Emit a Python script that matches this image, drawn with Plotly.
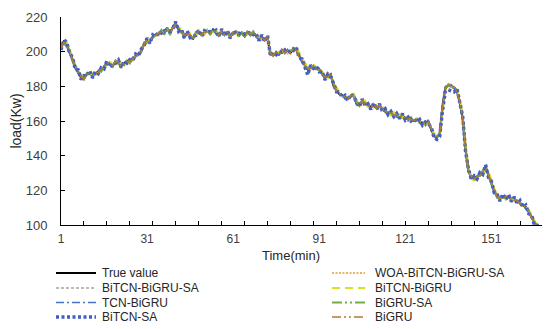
import plotly.graph_objects as go

# ---------------- data ----------------
x_tick_labels = [1, 31, 61, 91, 121, 151]
x_tick_marks = list(range(1, 170, 8))
x_max = 169

true_value = [
    202.5, 205.8, 204.1, 200.2, 195.6, 190.8, 188.1, 185.2, 184.6, 186.9,
    187.8, 186.0, 187.2, 188.6, 189.3, 191.0, 193.6, 192.5, 191.8, 194.4,
    193.7, 191.9, 193.2, 194.6, 194.0, 195.9, 197.4, 198.8, 200.3, 204.7,
    206.5, 205.9, 208.4, 209.8, 210.3, 211.9, 210.7, 213.6, 210.4, 214.2,
    216.0, 212.9, 211.6, 208.9, 210.8, 209.3, 207.6, 210.5, 211.3, 209.9,
    210.8, 212.1, 210.4, 212.6, 211.0, 209.7, 211.9, 210.2, 210.9, 208.8,
    210.6, 211.5, 209.4, 210.7, 208.9, 211.2, 210.0, 211.0, 209.2, 207.5,
    208.3, 207.0, 208.1, 198.6, 198.0, 199.4, 198.6, 200.8, 199.7, 200.5,
    199.5, 201.8, 201.2, 197.6, 194.5, 192.4, 189.6, 190.9, 191.5, 190.3,
    189.6, 187.4, 184.9, 185.8, 186.9, 180.4, 178.2, 175.6, 174.8, 173.5,
    173.0, 174.3, 175.2, 170.1, 169.5, 171.4, 170.2, 168.7, 168.0, 169.1,
    167.9, 168.6, 167.0, 165.8, 164.9, 164.2, 163.8, 163.1, 162.7, 162.9,
    161.8, 160.9, 161.3, 160.2, 160.8, 159.6, 158.9, 158.2, 159.8, 155.3,
    151.8, 150.6, 152.4, 168.7, 179.2, 180.6, 180.1, 179.3, 177.4, 170.8,
    161.5, 143.8, 131.2, 127.6, 127.0, 127.8, 128.9, 130.4, 133.5, 128.6,
    124.0, 119.8, 116.4, 115.1, 116.6, 115.9, 116.2, 114.8, 114.9, 113.6,
    112.8, 111.4, 110.2, 107.8, 104.6, 101.2, 98.6, 97.0, 96.2,
]

woa_bitcn_bigru_sa = [
    202.9, 205.1, 203.6, 199.5, 195.9, 191.4, 187.6, 185.8, 185.1, 186.3,
    188.2, 186.6, 186.8, 188.1, 189.9, 190.6, 193.0, 192.9, 192.3, 193.8,
    194.1, 192.5, 192.8, 194.1, 194.6, 195.4, 197.9, 198.3, 200.9, 204.1,
    206.0, 206.4, 207.9, 210.3, 209.8, 211.4, 211.2, 213.0, 211.0, 213.6,
    215.4, 213.5, 211.0, 209.5, 210.2, 209.9, 208.2, 209.9, 211.8, 210.4,
    210.3, 211.6, 210.9, 212.0, 211.5, 210.2, 211.3, 210.8, 210.3, 209.4,
    210.1, 211.0, 209.9, 210.2, 209.5, 210.7, 210.5, 210.5, 209.7, 208.0,
    207.8, 207.6, 207.5, 199.3, 198.5, 198.9, 199.1, 200.2, 200.2, 200.0,
    200.0, 201.3, 200.7, 198.2, 195.0, 192.0, 190.2, 190.5, 191.0, 190.8,
    189.1, 187.9, 185.4, 185.4, 186.3, 181.0, 178.7, 176.1, 174.4, 173.9,
    172.6, 174.0, 174.7, 170.7, 170.0, 170.9, 170.6, 168.3, 168.4, 168.7,
    168.3, 168.1, 167.5, 165.4, 165.3, 163.9, 164.2, 162.7, 163.0, 162.5,
    162.2, 161.3, 160.9, 160.6, 160.4, 159.9, 158.6, 158.6, 159.3, 155.8,
    152.3, 151.0, 152.9, 168.0, 178.6, 180.1, 179.6, 178.8, 177.0, 171.4,
    162.0, 144.5, 131.9, 128.1, 127.5, 127.3, 128.4, 130.0, 132.9, 129.2,
    124.5, 120.3, 116.9, 115.6, 116.1, 116.4, 115.7, 115.2, 114.5, 114.0,
    112.4, 111.8, 110.7, 108.3, 105.1, 101.7, 99.1, 97.5, 96.7,
]

bitcn_bigru_sa = [
    201.8, 204.9, 204.8, 201.0, 196.4, 191.5, 188.9, 186.0, 184.0, 186.2,
    188.5, 186.9, 186.5, 189.2, 188.7, 190.3, 192.8, 193.3, 191.1, 193.6,
    194.5, 192.8, 192.4, 195.3, 193.4, 196.5, 196.8, 199.5, 199.6, 203.8,
    207.2, 205.2, 207.6, 210.6, 209.5, 212.6, 210.0, 212.8, 211.3, 213.5,
    215.1, 213.8, 210.8, 209.6, 210.1, 208.6, 208.4, 209.7, 212.0, 209.2,
    211.5, 211.4, 211.2, 211.8, 211.7, 209.0, 212.5, 209.6, 211.5, 209.5,
    209.9, 212.1, 208.8, 211.3, 208.3, 211.8, 209.4, 211.6, 208.6, 208.2,
    207.6, 207.7, 207.3, 199.5, 197.4, 200.1, 198.0, 201.5, 199.0, 201.1,
    198.9, 202.4, 200.5, 198.4, 193.8, 193.1, 190.3, 190.2, 192.2, 189.7,
    190.3, 186.8, 185.6, 185.1, 187.5, 181.1, 177.6, 176.3, 174.2, 174.1,
    172.4, 174.9, 174.6, 170.8, 168.9, 172.0, 169.6, 169.3, 167.4, 169.7,
    167.3, 169.2, 166.4, 166.4, 164.3, 164.8, 163.2, 163.7, 162.1, 163.5,
    161.2, 161.5, 160.7, 160.8, 160.2, 160.2, 158.3, 158.8, 159.2, 156.0,
    151.2, 151.3, 153.1, 167.9, 178.5, 181.2, 179.5, 179.9, 176.8, 171.5,
    160.8, 144.6, 130.5, 128.3, 126.4, 128.4, 128.3, 131.0, 132.8, 129.3,
    123.4, 120.5, 115.8, 115.7, 116.0, 116.5, 115.6, 115.4, 114.3, 114.2,
    112.2, 112.0, 109.6, 108.4, 104.0, 101.8, 98.0, 97.6, 95.6,
]

bitcn_bigru = [
    203.4, 204.6, 205.2, 201.6, 197.0, 192.2, 189.4, 186.6, 185.5, 185.8,
    187.1, 187.3, 186.4, 187.6, 190.1, 190.2, 192.4, 194.0, 192.7, 193.1,
    195.0, 193.2, 192.0, 193.9, 195.2, 194.8, 198.3, 197.9, 201.2, 203.5,
    205.6, 207.1, 207.4, 209.2, 211.2, 210.8, 211.9, 212.5, 211.6, 212.8,
    215.0, 214.1, 212.3, 210.0, 209.6, 210.4, 208.7, 209.0, 212.4, 210.8,
    209.8, 212.8, 211.3, 211.1, 212.3, 210.6, 210.8, 211.3, 209.8, 209.9,
    209.5, 210.6, 210.6, 209.5, 210.2, 209.9, 211.4, 209.7, 210.4, 208.6,
    206.9, 208.5, 206.7, 200.8, 197.3, 198.1, 199.8, 199.4, 201.4, 199.0,
    201.0, 200.6, 202.3, 199.4, 196.1, 193.5, 191.1, 189.7, 192.3, 191.2,
    188.7, 188.5, 186.1, 184.6, 185.7, 182.3, 179.3, 177.0, 174.0, 174.6,
    172.1, 173.3, 176.0, 172.3, 168.6, 170.4, 171.6, 167.8, 169.1, 167.9,
    169.0, 167.4, 168.2, 165.0, 165.9, 163.4, 164.9, 162.2, 163.6, 161.8,
    162.7, 160.4, 162.0, 159.6, 161.5, 158.9, 159.6, 157.5, 159.0, 157.1,
    153.0, 150.1, 151.6, 165.9, 177.5, 181.4, 180.8, 178.4, 178.2, 172.6,
    163.0, 146.8, 133.5, 126.6, 125.8, 126.4, 129.9, 129.3, 132.1, 130.6,
    125.2, 121.1, 117.5, 114.2, 117.4, 114.6, 117.3, 113.9, 115.8, 112.7,
    113.5, 110.6, 111.1, 108.9, 105.8, 102.6, 99.7, 96.4, 97.0,
]

tcn_bigru = [
    201.6, 206.4, 203.2, 199.1, 194.7, 190.1, 188.8, 184.3, 185.7, 187.5,
    186.9, 185.3, 188.0, 189.3, 188.5, 191.7, 194.2, 191.6, 191.0, 195.1,
    192.8, 191.2, 194.0, 193.8, 193.1, 196.7, 196.6, 198.0, 201.1, 205.5,
    205.7, 205.1, 209.2, 209.0, 211.1, 211.0, 210.0, 214.4, 209.6, 215.0,
    216.6, 212.0, 212.4, 208.1, 211.6, 208.5, 206.8, 211.3, 210.5, 210.7,
    211.6, 212.9, 209.6, 213.4, 210.2, 208.9, 212.7, 209.4, 211.7, 208.0,
    211.4, 210.7, 208.6, 211.5, 208.1, 212.0, 209.3, 211.8, 208.4, 206.7,
    209.1, 206.3, 208.9, 197.8, 198.8, 200.2, 197.8, 201.6, 198.9, 201.3,
    198.7, 202.6, 200.4, 196.8, 193.7, 191.6, 188.8, 191.7, 190.7, 189.5,
    190.4, 186.6, 184.1, 186.6, 186.1, 179.6, 177.4, 174.8, 175.6, 172.7,
    173.8, 175.1, 174.4, 169.3, 170.3, 170.6, 169.4, 169.5, 167.2, 169.9,
    167.1, 169.4, 166.2, 165.0, 164.1, 165.0, 163.0, 162.3, 161.9, 163.7,
    161.0, 160.1, 162.1, 159.4, 161.6, 158.8, 158.1, 157.4, 160.6, 154.5,
    151.0, 149.8, 153.2, 169.5, 180.0, 179.8, 180.9, 178.5, 176.6, 170.0,
    160.7, 143.0, 130.4, 126.8, 127.8, 127.0, 129.7, 131.2, 134.3, 127.8,
    123.2, 119.0, 115.6, 115.9, 115.8, 116.7, 115.4, 113.8, 115.7, 112.8,
    112.0, 110.6, 109.4, 107.0, 103.8, 100.4, 97.8, 96.2, 95.4,
]

bigru_sa = [
    203.1, 204.7, 202.8, 200.9, 194.8, 191.9, 187.3, 186.1, 183.9, 187.6,
    186.9, 186.7, 186.4, 189.3, 188.4, 191.8, 192.7, 193.1, 190.9, 194.9,
    192.9, 192.6, 192.4, 195.3, 193.2, 196.6, 196.7, 199.4, 199.5, 205.4,
    205.8, 206.7, 207.7, 210.5, 209.6, 212.5, 209.9, 214.3, 209.7, 214.9,
    215.2, 213.6, 210.9, 209.6, 210.1, 210.0, 206.9, 211.2, 210.6, 210.6,
    210.1, 212.8, 209.7, 213.3, 210.3, 210.4, 211.2, 210.9, 210.2, 209.5,
    209.9, 212.2, 208.7, 211.4, 208.2, 211.9, 209.3, 211.7, 208.5, 208.2,
    208.9, 206.4, 208.8, 198.1, 198.9, 198.6, 199.4, 200.3, 200.6, 199.8,
    200.4, 201.0, 202.1, 196.9, 195.3, 191.6, 190.6, 190.0, 192.4, 189.9,
    189.3, 188.2, 184.6, 186.4, 186.2, 181.5, 177.9, 176.6, 174.1, 174.5,
    172.8, 174.7, 174.5, 171.3, 168.8, 171.7, 169.8, 169.4, 167.3, 169.8,
    167.2, 169.3, 166.3, 166.5, 164.2, 164.9, 163.1, 163.8, 162.0, 163.6,
    161.1, 161.6, 160.6, 160.9, 160.1, 160.3, 158.2, 158.9, 159.1, 156.1,
    151.6, 150.4, 153.0, 167.2, 178.9, 180.3, 180.7, 179.0, 177.7, 170.3,
    161.9, 143.6, 131.8, 127.1, 126.5, 128.1, 128.2, 131.1, 132.7, 129.4,
    123.6, 120.6, 115.7, 115.8, 115.9, 116.6, 115.5, 115.5, 114.2, 114.3,
    112.1, 112.1, 109.5, 108.5, 103.9, 101.9, 97.9, 97.7, 95.5,
]

bitcn_sa = [
    201.0, 206.9, 205.5, 199.0, 196.8, 189.6, 189.5, 184.0, 186.1, 185.6,
    189.1, 184.8, 188.6, 187.3, 190.7, 190.0, 194.8, 191.2, 193.1, 193.2,
    195.2, 190.8, 194.5, 193.3, 195.4, 194.7, 198.6, 197.5, 201.6, 203.6,
    207.8, 204.8, 209.7, 208.6, 211.7, 210.7, 212.0, 212.5, 211.8, 213.1,
    217.3, 211.7, 212.9, 207.7, 212.0, 208.1, 209.0, 209.3, 212.6, 208.7,
    212.1, 211.0, 211.7, 211.4, 212.4, 208.5, 213.1, 209.0, 212.2, 207.6,
    211.9, 210.3, 210.7, 209.5, 210.3, 210.0, 211.3, 209.8, 210.5, 206.3,
    209.6, 205.8, 209.4, 197.4, 199.3, 198.2, 199.9, 199.6, 201.0, 199.3,
    200.8, 200.6, 202.5, 196.4, 195.8, 191.2, 186.5, 192.2, 190.3, 191.6,
    188.4, 188.7, 183.6, 187.1, 185.6, 181.7, 176.9, 176.9, 173.5, 174.8,
    171.7, 175.6, 173.9, 171.4, 168.2, 172.7, 168.9, 170.0, 166.7, 170.4,
    166.6, 169.9, 165.7, 167.1, 163.6, 165.5, 162.5, 164.4, 161.4, 164.2,
    160.5, 162.2, 160.0, 161.5, 159.5, 160.9, 157.6, 159.5, 158.5, 156.6,
    150.5, 149.3, 151.1, 166.2, 177.3, 178.0, 177.2, 176.8, 178.7, 169.5,
    162.8, 142.5, 132.5, 126.3, 128.3, 126.5, 130.2, 129.1, 134.8, 127.3,
    125.3, 118.5, 117.7, 113.8, 117.9, 114.6, 117.5, 113.5, 116.2, 112.3,
    114.1, 110.1, 111.5, 106.5, 105.9, 99.9, 99.9, 95.7, 97.5,
]

bigru = [
    202.0, 205.3, 204.6, 200.7, 195.1, 191.3, 187.6, 185.7, 184.2, 187.4,
    187.3, 186.5, 187.7, 188.1, 189.8, 190.5, 194.1, 192.0, 192.3, 193.9,
    194.2, 191.4, 193.7, 194.1, 194.5, 195.4, 197.9, 198.3, 200.8, 204.2,
    207.0, 205.4, 208.9, 209.3, 210.8, 211.4, 211.2, 213.1, 210.9, 213.7,
    215.5, 213.4, 211.1, 209.4, 210.3, 209.8, 208.1, 210.0, 211.8, 209.4,
    211.3, 211.6, 210.9, 212.1, 211.5, 209.2, 212.4, 209.7, 211.4, 208.3,
    211.1, 211.0, 209.9, 210.2, 209.4, 210.7, 210.5, 210.5, 209.7, 207.0,
    208.8, 206.5, 208.6, 199.1, 197.5, 199.9, 198.1, 201.3, 199.2, 201.0,
    199.0, 202.3, 200.7, 197.1, 195.0, 191.9, 190.1, 190.4, 192.0, 189.8,
    190.1, 186.9, 185.4, 185.3, 187.4, 180.9, 177.7, 176.1, 174.3, 174.0,
    172.5, 174.8, 174.7, 170.6, 169.0, 171.9, 169.7, 169.2, 167.5, 169.6,
    167.4, 169.1, 166.5, 166.3, 164.4, 164.7, 163.3, 163.6, 162.2, 163.4,
    161.3, 161.4, 160.8, 160.7, 160.3, 160.1, 158.4, 158.7, 159.3, 155.8,
    151.3, 151.1, 152.9, 168.2, 178.7, 181.1, 179.6, 179.8, 176.9, 171.3,
    161.0, 144.3, 130.7, 128.1, 126.5, 128.3, 128.4, 130.9, 133.0, 129.1,
    123.5, 120.3, 115.9, 115.6, 116.1, 116.4, 115.7, 115.3, 114.4, 114.1,
    112.3, 111.9, 109.7, 108.3, 104.1, 101.7, 98.1, 97.5, 95.7,
]

series_names = [
    "True value", "WOA-BiTCN-BiGRU-SA", "BiTCN-BiGRU-SA", "BiTCN-BiGRU",
    "TCN-BiGRU", "BiGRU-SA", "BiTCN-SA", "BiGRU",
]
series_values = [
    true_value, woa_bitcn_bigru_sa, bitcn_bigru_sa, bitcn_bigru,
    tcn_bigru, bigru_sa, bitcn_sa, bigru,
]

# ---------------- styles ----------------
series_colors = ["#000000", "#E39B2E", "#A5A5A5", "#D9DC2A",
                 "#4472C4", "#70AD47", "#3F5EC8", "#B37A32"]
series_dashes = ["solid", "2px,1.5px", "3px,2px", "8px,5px",
                 "8px,3px,2px,3px", "10px,3px,2px,3px,2px,3px",
                 "3px,2.5px", "9px,3px,2px,3px,2px,3px"]
series_widths = [2.2, 1.6, 1.3, 2.2, 1.6, 2.0, 3.4, 1.7]

# The page body has an 8px default margin, so the figure is drawn
# 8px right/down of the window origin; geometry below is in window pixels.
OFF = 8
W_FIG, H_FIG = 550 - OFF, 329 - OFF
L, R, T, B = 61, 543, 17, 225          # plot area in window pixels
PW, PH = R - L, B - T

fig = go.Figure()
n_series = len(series_names)
for k, (name, vals, c, d, w) in enumerate(zip(series_names, series_values,
                                              series_colors, series_dashes,
                                              series_widths)):
    fig.add_trace(go.Scatter(
        x=list(range(1, len(vals) + 1)), y=vals, mode="lines", name=name,
        line=dict(color=c, dash=d, width=w), showlegend=False,
        # last series sits on the label axis (same scale) so it is drawn on top
        xaxis="x2" if k == n_series - 1 else "x",
    ))


def px_x(px):
    return (px - L) / PW


def px_y(py):
    return (B - py) / PH


# ---------------- manual two-column legend ----------------
row_y = [273, 288, 302.5, 317]
col_sym = [(56, 96), (332, 365)]
col_txt = [100, 373]
shapes, annotations = [], []
for k, name in enumerate(series_names):
    col = k % 2
    row = k // 2
    y = px_y(row_y[row])
    x0, x1 = col_sym[col]
    shapes.append(dict(
        type="line", xref="paper", yref="paper",
        x0=px_x(x0), x1=px_x(x1), y0=y, y1=y,
        line=dict(color=series_colors[k], dash=series_dashes[k],
                  width=series_widths[k]),
    ))
    annotations.append(dict(
        xref="paper", yref="paper", x=px_x(col_txt[col]), y=y,
        xanchor="left", yanchor="middle", showarrow=False, text=name,
        font=dict(family="Liberation Sans, Arial, sans-serif", size=12,
                  color="#262626"),
    ))

# x-axis title, centred where the reference puts it
annotations.append(dict(
    xref="paper", yref="paper", x=px_x(291), y=px_y(256),
    xanchor="center", yanchor="middle", showarrow=False, text="Time(min)",
    font=dict(family="Liberation Sans, Arial, sans-serif", size=13,
              color="#262626"),
))

fig.update_layout(
    width=W_FIG, height=H_FIG,
    margin=dict(l=L - OFF, r=W_FIG - (R - OFF), t=T - OFF,
                b=H_FIG - (B - OFF), pad=0, autoexpand=False),
    paper_bgcolor="white", plot_bgcolor="white",
    font=dict(family="Liberation Sans, Arial, sans-serif", size=12,
              color="#404040"),
    showlegend=False,
    shapes=shapes, annotations=annotations,
    xaxis=dict(
        range=[1, x_max], tickmode="array", tickvals=x_tick_marks,
        showticklabels=False, ticks="inside", ticklen=4,
        tickcolor="#000000", tickwidth=1,
        showline=True, linecolor="#000000", linewidth=1,
        showgrid=False, zeroline=False, automargin=False,
    ),
    xaxis2=dict(
        overlaying="x", anchor="y", side="bottom",
        range=[1, x_max], tickmode="array", tickvals=x_tick_labels,
        ticktext=[str(v) for v in x_tick_labels], ticks="",
        showline=False, showgrid=False, zeroline=False,
        ticklabelstandoff=5, automargin=False,
        tickfont=dict(size=12, color="#404040"),
    ),
    yaxis=dict(
        range=[100, 220], dtick=20, tick0=100,
        ticks="inside", ticklen=4, tickcolor="#000000", tickwidth=1,
        showline=True, linecolor="#000000", linewidth=1,
        showgrid=False, zeroline=False, ticklabelstandoff=10,
        tickfont=dict(size=13, color="#404040"),
        title=dict(text="load(Kw)", standoff=7,
                   font=dict(size=14, color="#262626")),
        automargin=False,
    ),
)

fig.write_html("out.html")
